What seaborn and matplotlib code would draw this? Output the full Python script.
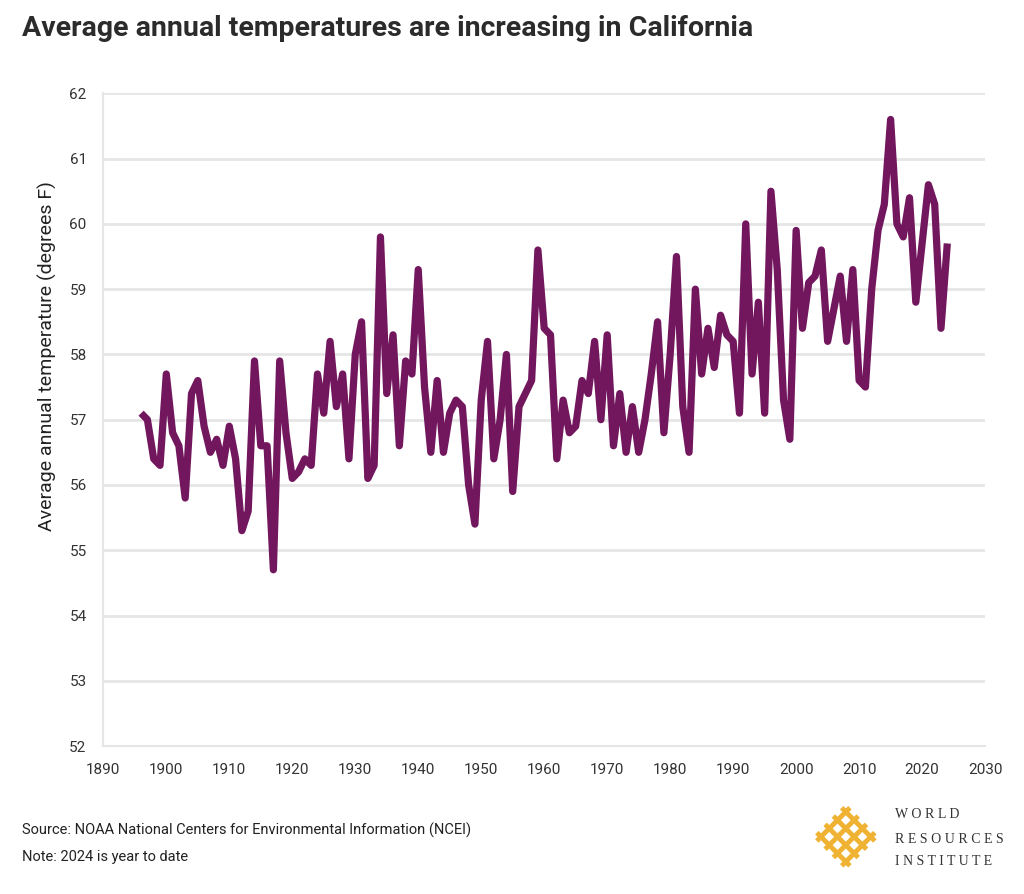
import matplotlib
matplotlib.use("Agg")
import matplotlib.pyplot as plt
import seaborn as sns
import pandas as pd

# Donnees (temperature moyenne annuelle, Californie)
years = list(range(1896, 2025))
temps = [
    57.1, 57.0, 56.4, 56.3, 57.7, 56.8, 56.6, 55.8, 57.4, 57.6,   # 1896-1905
    56.9, 56.5, 56.7, 56.3, 56.9, 56.4, 55.3, 55.6, 57.9, 56.6,   # 1906-1915
    56.6, 54.7, 57.9, 56.8, 56.1, 56.2, 56.4, 56.3, 57.7, 57.1,   # 1916-1925
    58.2, 57.2, 57.7, 56.4, 58.0, 58.5, 56.1, 56.3, 59.8, 57.4,   # 1926-1935
    58.3, 56.6, 57.9, 57.7, 59.3, 57.5, 56.5, 57.6, 56.5, 57.1,   # 1936-1945
    57.3, 57.2, 56.0, 55.4, 57.3, 58.2, 56.4, 57.0, 58.0, 55.9,   # 1946-1955
    57.2, 57.4, 57.6, 59.6, 58.4, 58.3, 56.4, 57.3, 56.8, 56.9,   # 1956-1965
    57.6, 57.4, 58.2, 57.0, 58.3, 56.6, 57.4, 56.5, 57.2, 56.5,   # 1966-1975
    57.0, 57.7, 58.5, 56.8, 58.0, 59.5, 57.2, 56.5, 59.0, 57.7,   # 1976-1985
    58.4, 57.8, 58.6, 58.3, 58.2, 57.1, 60.0, 57.7, 58.8, 57.1,   # 1986-1995
    60.5, 59.3, 57.3, 56.7, 59.9, 58.4, 59.1, 59.2, 59.6, 58.2,   # 1996-2005
    58.7, 59.2, 58.2, 59.3, 57.6, 57.5, 59.0, 59.9, 60.3, 61.6,   # 2006-2015
    60.0, 59.8, 60.4, 58.8, 59.7, 60.6, 60.3, 58.4, 59.7,         # 2016-2024
]
x_ticks = list(range(1890, 2031, 10))
y_ticks = list(range(52, 63))
logo_lines = ["W O R L D", "R E S O U R C E S", "I N S T I T U T E"]

df = pd.DataFrame({"Annee": years, "Temperature": temps})

sns.set_style("white")
plt.rcParams["font.family"] = ["Roboto", "DejaVu Sans"]

fig = plt.figure(figsize=(10.24, 8.94), dpi=100)
ax = fig.add_axes([0.1009, 0.1655, 0.8611, 0.7301])

grid_col = "#e6e6e6"
for y in y_ticks:
    ax.axhline(y, color=grid_col, lw=2, zorder=0)

sns.lineplot(data=df, x="Annee", y="Temperature", ax=ax, color="#72175e",
             linewidth=5.2, solid_joinstyle="round", solid_capstyle="butt", zorder=3)

ax.set_xlim(1890, 2030)
ax.set_ylim(52, 62)
ax.set_xticks(x_ticks)
ax.set_yticks(y_ticks)
ax.tick_params(axis="both", length=8, width=1.5, color=grid_col, labelsize=11,
               labelcolor="#333333", pad=4)
for side in ["top", "right"]:
    ax.spines[side].set_visible(False)
for side in ["left", "bottom"]:
    ax.spines[side].set_color(grid_col)
    ax.spines[side].set_linewidth(1.5)
ax.set_xlabel("")
ax.set_ylabel("Average annual temperature (degrees F)", fontsize=14, color="#222222")
ax.yaxis.set_label_coords(-0.053, 0.598)

# Titre et notes
fig.text(0.021, 0.983, "Average annual temperatures are increasing in California",
         fontsize=20.5, fontweight="bold", color="#2b2b2b", va="top")
fig.text(0.021, 0.071, "Source: NOAA National Centers for Environmental Information (NCEI)",
         fontsize=10.5, color="#222222", va="center")
fig.text(0.021, 0.041, "Note: 2024 is year to date", fontsize=10.5, color="#222222", va="center")

# Logo WRI (approximation : treillis en losange)
logo = fig.add_axes([0.792, 0.025, 0.068, 0.078])
logo.set_xlim(-1.05, 1.05)
logo.set_ylim(-1.05, 1.05)
logo.axis("off")
gold = "#f0b232"
for k in [-0.75, -0.25, 0.25, 0.75]:
    # droites x - y = k et x + y = k limitees au losange |x| + |y| <= 1
    logo.plot([(-1 + k) / 2, (1 + k) / 2], [(-1 - k) / 2, (1 - k) / 2],
              color=gold, lw=3.5, solid_capstyle="butt")
    logo.plot([(k - 1) / 2, (k + 1) / 2], [(k + 1) / 2, (k - 1) / 2],
              color=gold, lw=3.5, solid_capstyle="butt")
for txt, yy in zip(logo_lines, [0.089, 0.061, 0.036]):
    fig.text(0.874, yy, txt, fontsize=10, family="Liberation Serif", color="#333333", va="center")

fig.savefig("out.png", dpi=100)
